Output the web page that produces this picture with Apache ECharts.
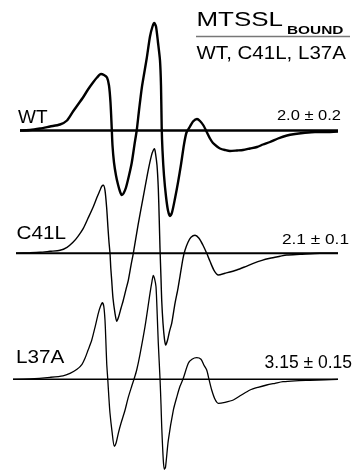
<!DOCTYPE html>
<html>
<head>
<meta charset="utf-8">
<script src="https://cdn.jsdelivr.net/npm/echarts@6/dist/echarts.min.js"></script>
<style>
  html, body { margin: 0; padding: 0; background: #fff; }
  #chart { width: 355px; height: 470px; }
</style>
</head>
<body>
<div id="chart"></div>
<script>
// field positions (arbitrary scan units) and first-derivative signal
const wtField = [20,30,40,50,60,67,73,78,83,88,93,97,101,104,107,109,110.5,111.7,112.5,114,116,118,120,121.7,123.5,126,129,131.7,134.5,136.7,139,142,146.7,150,152.5,154.3,156,158,160,161,161.7,162.5,164,166,168,170,172,175,178,181,184,186.5,190,193,197,200,203.5,207,210,213,217,220,225,230,237,243,250,257,263,270,278,287,295,303,315,325,338];
const wtSignal = [0,0.5,2,4,6,10,19,26,33,41,48,53,56.5,55.5,53,45,28,3,-15,-32,-45,-54,-61,-64.5,-63,-57,-45,-32.5,-14,0,20,44,72,94,104,107.5,104,88,70,45,3,-20,-45,-66,-80,-85.5,-82,-68,-52,-34,-14,-2,4,9,11.5,9.5,5,-2,-8,-12.5,-16,-18,-19.5,-20.5,-20,-19.5,-18,-16.5,-14,-11.5,-8,-5,-3.5,-2.5,-1.5,-1.5,-1];

const c41lField = [16,30,40,50,60,67,73,78,83.3,88,93.3,97,100,101.7,103.3,105,106.7,108,109,110,110.8,111.7,113,115,116.7,118.5,121,123.3,126,128.3,131,133.3,138,143.3,148,151.5,153.3,154.5,155.5,157,158.3,159.2,160,161,161.7,163,164.5,165.7,167.5,169.5,171.7,175,178,180,183,185,188,191,195,199,203,206.7,210,214,218.3,225,236.7,245,253.3,262,270,280,286.7,300,320,338];
const c41lSignal = [0,0.5,1,2,3,6,11,17,25,35,46.6,56,63,67,68,63,45,25,11,0,-15,-27,-45,-60,-68,-64,-55,-47,-36,-27,-12,0,28,56.6,82,98,103,104.5,100,88,65,35,5,-25,-47,-70,-86,-91.7,-87,-78,-70,-50,-35,-23,-5,3,11,16,18,15,8,0,-8,-17,-21.7,-20,-16.7,-13.5,-10,-7,-5,-3,-1.7,-1,0,0];

const l37aField = [13,30,50,63,70,77,82,85,88,91.7,95,98.3,100.5,102.3,103.8,105,105.8,106.7,107.7,108.8,110,112,114.3,116,118.3,121,125,128,131.7,134.3,136.7,140,145,150,152,153.3,154.5,156,157.2,158.3,160,161,161.7,163.3,164.3,165.5,168.3,173.3,177,180,183.3,188.3,192,196.7,201,204,206.7,209,211.7,215,218.3,225,233.3,241,250,258,266.7,275,283,295,310,325,338];
const l37aSignal = [0,0.5,2,3.5,6,10,15,21,29,39,52,66,73,76.6,73,59,40,16,1,-17,-34,-52,-67,-64,-54,-44,-31,-19,-7,1,9.3,25,52.6,86,98,104,101,92.6,65,36,1,-25,-47,-81,-90,-88,-61,-31,-17,-7,1,16,20,21.6,20,14,9.3,0,-10.7,-20,-24,-23,-20.7,-16,-10.7,-8,-5.7,-4,-2.4,-1.5,-1,-0.5,0];

const sampleLabels = ['WT', 'C41L', 'L37A'];
const valueLabels = ['2.0 \u00b1 0.2', '2.1 \u00b1 0.1', '3.15 \u00b1 0.15'];
const titleMain = 'MTSSL';
const titleSub = 'BOUND';
const titleLine2 = 'WT, C41L, L37A';

const FONT = '"Liberation Sans", Arial, Helvetica, sans-serif';

// each spectrum gets its own grid, centred on its baseline, same vertical scale
const spectra = [
  { field: wtField, signal: wtSignal, top: 40.5, width: 2.4, base: 2.4 },
  { field: c41lField, signal: c41lSignal, top: 163.3, width: 1.4, base: 2 },
  { field: l37aField, signal: l37aSignal, top: 289.3, width: 1.3, base: 1.5 }
];

const grids = [], xAxes = [], yAxes = [], series = [];
spectra.forEach((s, i) => {
  grids.push({ left: 0, top: s.top, width: 355, height: 180 });
  xAxes.push({ type: 'value', gridIndex: i, min: 0, max: 355, show: false });
  yAxes.push({ type: 'value', gridIndex: i, min: -90, max: 90, show: false });
  // baseline across the scan
  series.push({
    type: 'line', xAxisIndex: i, yAxisIndex: i, clip: false,
    showSymbol: false, silent: true,
    data: [[s.field[0], 0], [s.field[s.field.length - 1], 0]],
    lineStyle: { color: '#000', width: s.base }
  });
  series.push({
    type: 'line', xAxisIndex: i, yAxisIndex: i, clip: false,
    showSymbol: false, smooth: 0.25,
    data: s.field.map((x, k) => [x, s.signal[k]]),
    lineStyle: { color: '#000', width: s.width }
  });
});

const labelPos = [[18, 118], [16.5, 233.5], [16, 357.5]];
const valuePos = [[341, 116], [349, 240], [352, 363.5]];
const valueScale = [1.1, 1.15, 1.0];
const valueSize = [15, 15, 17.5];

const graphic = [
  { type: 'text', x: 196.5, y: 21, scaleX: 1.33,
    style: { text: titleMain, font: '19.5px ' + FONT, fill: '#000', textAlign: 'left', textVerticalAlign: 'middle' } },
  { type: 'text', x: 287, y: 31, scaleX: 1.4,
    style: { text: titleSub, font: 'bold 11px ' + FONT, fill: '#000', textAlign: 'left', textVerticalAlign: 'middle' } },
  { type: 'line', shape: { x1: 196, y1: 36.5, x2: 350, y2: 36.5 },
    style: { stroke: '#777', lineWidth: 1.5 } },
  { type: 'text', x: 196.5, y: 54, scaleX: 1.14,
    style: { text: titleLine2, font: '18px ' + FONT, fill: '#000', textAlign: 'left', textVerticalAlign: 'middle' } }
];
sampleLabels.forEach((t, i) => {
  graphic.push({ type: 'text', x: labelPos[i][0], y: labelPos[i][1], scaleX: i === 0 ? 1 : 1.09,
    style: { text: t, font: '19px ' + FONT, fill: '#000', textAlign: 'left', textVerticalAlign: 'middle' } });
});
valueLabels.forEach((t, i) => {
  graphic.push({ type: 'text', x: valuePos[i][0], y: valuePos[i][1], scaleX: valueScale[i],
    style: { text: t, font: valueSize[i] + 'px ' + FONT, fill: '#000', textAlign: 'right', textVerticalAlign: 'middle' } });
});

const chart = echarts.init(document.getElementById('chart'), null, { renderer: 'canvas' });
chart.setOption({
  animation: false,
  backgroundColor: '#fff',
  grid: grids,
  xAxis: xAxes,
  yAxis: yAxes,
  series: series,
  graphic: graphic
});
</script>
</body>
</html>
